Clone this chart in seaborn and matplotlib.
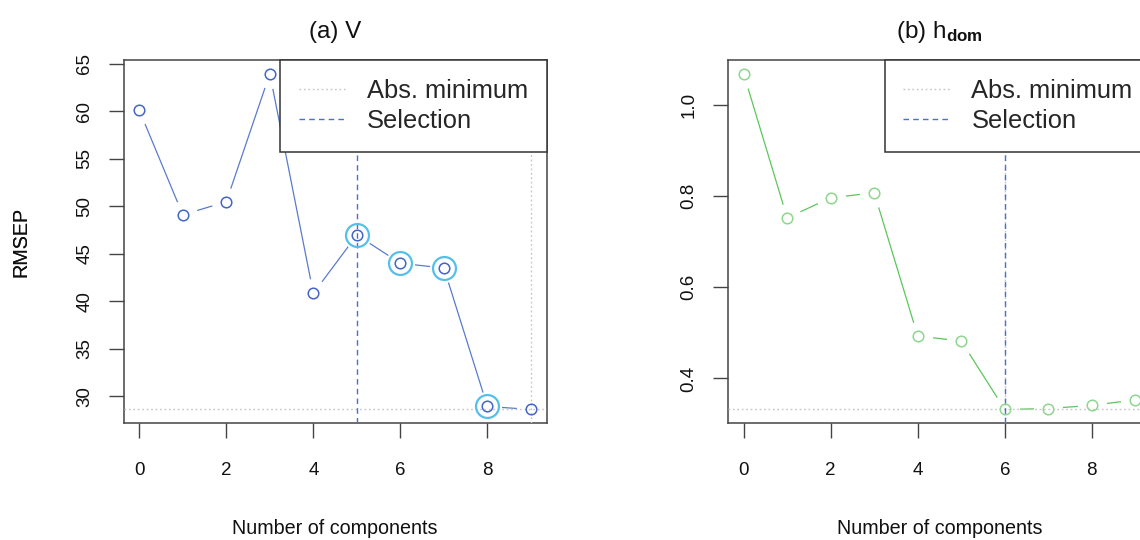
import numpy as np
import pandas as pd
import matplotlib
matplotlib.use("Agg")
import matplotlib.pyplot as plt
from matplotlib.lines import Line2D
import seaborn as sns

# ---- data ----
components = [0, 1, 2, 3, 4, 5, 6, 7, 8, 9]
rmsep_v = [60.12, 49.11, 50.48, 63.95, 40.84, 46.98, 44.01, 43.51, 28.95, 28.63]
rmsep_h = [1.068, 0.752, 0.796, 0.807, 0.493, 0.482, 0.332, 0.334, 0.341, 0.353]
highlight_v = [5, 6, 7, 8]
highlight_h = []
selection_v = 5
selection_h = 6
absmin_v = 9
absmin_h = 6
titles = ["(a) V", r"(b) h$_{\mathbf{dom}}$"]
xticks = [0, 2, 4, 6, 8]
yticks_v = [30, 35, 40, 45, 50, 55, 60, 65]
yticks_h = [0.4, 0.6, 0.8, 1.0]
ytick_labels_h = ["0.4", "0.6", "0.8", "1.0"]
legend_labels = ["Abs. minimum", "Selection"]
xlabel = "Number of components"
ylabel = "RMSEP"

sns.set_style("white")
plt.rcParams["font.family"] = ["Liberation Sans", "DejaVu Sans"]
plt.rcParams["mathtext.fontset"] = "custom"
plt.rcParams["mathtext.rm"] = "Liberation Sans"
plt.rcParams["mathtext.bf"] = "Liberation Sans:bold"
plt.rcParams["mathtext.it"] = "Liberation Sans:italic"

W, H = 1140, 540
fig = plt.figure(figsize=(W / 100, H / 100), dpi=100)

def fx(px):
    return px / W

def fy(px):
    return 1 - px / H

ax_w = 423
top, bottom = 60.3, 422.9
sel_color = "#4870d2"
min_color = "#c4c4c4"
axes_specs = [
    dict(left=123.6, y=rmsep_v, hl=highlight_v, sel=selection_v, amin=absmin_v,
         line="#5a7bcc", pt="#4466c4", yt=yticks_v, ytl=[str(t) for t in yticks_v]),
    dict(left=728.0, y=rmsep_h, hl=highlight_h, sel=selection_h, amin=absmin_h,
         line="#5cc65c", pt="#8fd68f", yt=yticks_h, ytl=ytick_labels_h),
]

for i, spec in enumerate(axes_specs):
    ax = fig.add_axes([fx(spec["left"]), fy(bottom), ax_w / W, (bottom - top) / H])
    y = spec["y"]
    df = pd.DataFrame({"x": components, "y": y})
    # connecting line
    sns.lineplot(data=df, x="x", y="y", ax=ax, color=spec["line"], lw=0.9, zorder=2)
    # white gaps around points (R type="b")
    sns.lineplot(data=df, x="x", y="y", ax=ax, linestyle="none", marker="o",
                 markersize=21, markerfacecolor="white", markeredgecolor="white",
                 markeredgewidth=0, zorder=2.5)
    # reference lines
    ymin_val = min(y)
    ax.axhline(ymin_val, color=min_color, lw=1.0, ls=(0, (1.2, 2)), zorder=3)
    ax.axvline(spec["amin"], color=min_color, lw=1.0, ls=(0, (1.2, 2)), zorder=3)
    ax.axvline(spec["sel"], color=sel_color, lw=1.0, ls=(0, (4, 3)), zorder=3.1)
    # highlighted points
    if spec["hl"]:
        hdf = df[df["x"].isin(spec["hl"])]
        sns.lineplot(data=hdf, x="x", y="y", ax=ax, linestyle="none", marker="o",
                     markersize=16.5, markerfacecolor="none", markeredgecolor="#55bfea",
                     markeredgewidth=1.6, zorder=4)
    # points
    sns.lineplot(data=df, x="x", y="y", ax=ax, linestyle="none", marker="o",
                 markersize=7.6, markerfacecolor="none", markeredgecolor=spec["pt"],
                 markeredgewidth=1.1, zorder=5)

    rng = max(y) - min(y)
    ax.set_ylim(min(y) - 0.04 * rng, max(y) + 0.04 * rng)
    ax.set_xlim(-0.36, 9.36)
    ax.set_xticks(xticks)
    ax.set_xticklabels([str(t) for t in xticks])
    ax.set_yticks(spec["yt"])
    ax.set_yticklabels(spec["ytl"], rotation=90, va="center")
    ax.tick_params(axis="x", length=10.8, width=1.0, color="#444444", pad=17.5,
                   labelsize=13.5, labelcolor="#111111", direction="out", bottom=True)
    ax.tick_params(axis="y", length=10.8, width=1.0, color="#444444", pad=11,
                   labelsize=13.5, labelcolor="#111111", direction="out", left=True)
    for s in ax.spines.values():
        s.set_color("#444444")
        s.set_linewidth(1.1)
    ax.set_title(titles[i], fontsize=17.5, pad=16, color="#111111")
    ax.set_xlabel(xlabel, fontsize=14.2, color="#111111")
    ax.set_ylabel(ylabel, fontsize=14.2, color="#111111")
    ax.xaxis.set_label_coords(0.5, -(519.5 - bottom) / (bottom - top))
    ax.yaxis.set_label_coords((30 - spec["left"]) / ax_w, 0.5)

    # legend
    handles = [Line2D([], [], color=min_color, lw=1.0, ls=(0, (1.2, 2))),
               Line2D([], [], color=sel_color, lw=1.0, ls=(0, (4, 3)))]
    leg = ax.legend(handles, legend_labels, loc="upper right", borderaxespad=0,
                    fontsize=18.4, frameon=True, fancybox=False, framealpha=1,
                    edgecolor="#333333", borderpad=0.72, labelspacing=0.26,
                    handlelength=1.82, handletextpad=0.85)
    leg.get_frame().set_linewidth(1.1)
    leg.set_zorder(10)

fig.savefig("out.png", dpi=100)
